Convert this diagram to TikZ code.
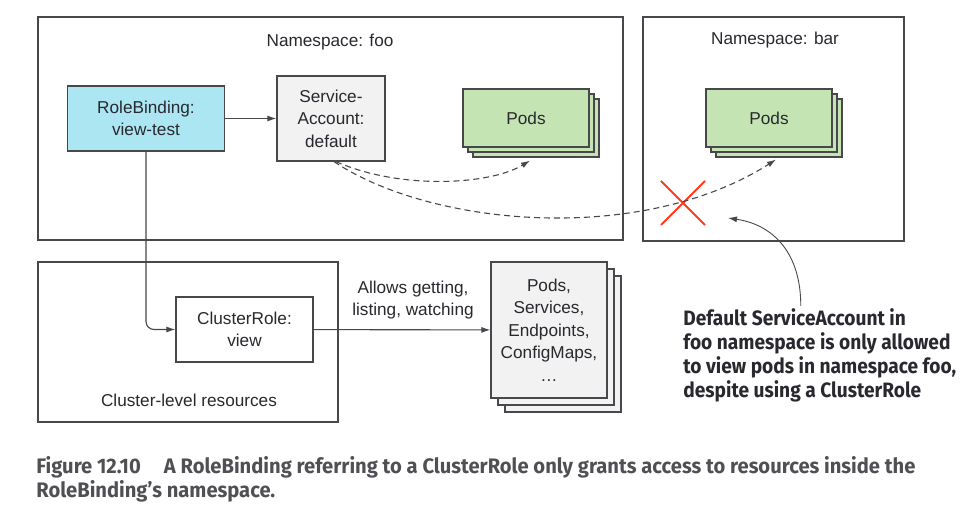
\documentclass[tikz,border=0pt]{standalone}
\usepackage{fontspec}
\setmainfont{Liberation Sans}
\newfontfamily\notefont[FakeStretch=0.92]{Fira Sans}
\newfontfamily\capfont[FakeStretch=0.96]{Fira Sans}
\usetikzlibrary{arrows.meta,shadows,shapes.misc}

\definecolor{rbblue}{RGB}{172,230,242}
\definecolor{podgreen}{RGB}{197,228,180}
\definecolor{sagray}{RGB}{242,242,242}
\definecolor{edge}{RGB}{72,72,76}
\definecolor{ink}{RGB}{40,40,46}
\definecolor{xred}{RGB}{255,59,31}
\definecolor{capgray}{RGB}{80,80,84}

\begin{document}
\begin{tikzpicture}[x=0.5pt, y=-0.5pt,
    font=\fontsize{8.6}{11.2}\selectfont, text=ink,
    region/.style={draw=edge, line width=0.6pt},
    box/.style={draw=edge, line width=0.6pt, align=center, inner sep=0pt},
    stack/.style={box, double copy shadow={shadow xshift=#1, shadow yshift=-#1}},
    arr/.style={draw=edge, line width=0.55pt, -{Latex[length=4.5pt, width=3pt]}},
    dasharr/.style={arr, dash pattern=on 3pt off 2pt}]
    \useasboundingbox (0,0) rectangle (970,512);

    % scopes
    \node[region, minimum width=292.5pt, minimum height=111.5pt] (foo) at (330.5,128.5) {};
    \node[region, minimum width=130.5pt, minimum height=112pt] (bar) at (773.5,129) {};
    \node[region, minimum width=150pt, minimum height=80pt] (cluster) at (188,342) {};
    \node (foolabel) at (330,42) {Namespace: foo};
    \node (barlabel) at (775,40) {Namespace: bar};
    \node (clusterlabel) at (189,400) {Cluster-level resources};

    % objects
    \node[box, fill=rbblue, minimum width=78.5pt, minimum height=32.5pt] (rb) at (146,118.5) {RoleBinding:\\view-test};
    \node[box, fill=sagray, minimum width=54pt, minimum height=42.5pt] (sa) at (331,118.5) {Service-\\Account:\\default};
    \node[stack=2.5pt, fill=podgreen, minimum width=63pt, minimum height=29pt] (foopods) at (526,118) {Pods};
    \node[stack=2.5pt, fill=podgreen, minimum width=63pt, minimum height=29pt] (barpods) at (769,118) {Pods};
    \node[box, fill=white, minimum width=68.5pt, minimum height=32.5pt] (cr) at (244.5,329.5) {ClusterRole:\\view};
    \node[stack=3.5pt, fill=sagray, minimum width=58pt, minimum height=68pt] (res) at (549,330) {Pods,\\Services,\\Endpoints,\\ConfigMaps,\\\dots};
    \node[align=center] (verbs) at (413,300) {Allows getting,\\listing, watching};
    \node[cross out, draw=xred, line width=1pt, minimum size=21pt, inner sep=0pt] (deny) at (683,203) {};

    \draw[arr] (rb) -- (sa);
    \draw[arr, rounded corners=4pt] (rb.south) |- (cr.west);
    \draw[arr] (cr) -- (res);
    \draw[dasharr] ([xshift=2.5pt]sa.south) .. controls (400,190) and (490,185) .. ([shift={(2pt,-6.5pt)}]foopods.south);
    \draw[dasharr] ([xshift=1.5pt]sa.south) .. controls (430,226) and (640,246) .. ([shift={(3.5pt,-6pt)}]barpods.south);

    % note
    \node[anchor=north west, align=left, inner sep=0pt, font=\notefont\bfseries\fontsize{10.4}{12}\selectfont] (note) at (683,308) {Default ServiceAccount in\\foo namespace is only allowed\\to view pods in namespace foo,\\despite using a ClusterRole};
    \coordinate (notetip) at (728,218);
    \draw[arr, line width=0.45pt] ([shift={(-9.5pt,1pt)}]note.north) .. controls (801,255) and (775,225) .. (notetip);

    % caption
    \node[anchor=north west, align=left, inner sep=0pt, text=capgray, font=\capfont\bfseries\fontsize{10.5}{12}\selectfont] (caption) at (36,456) {Figure 12.10\hspace{1.1em}A RoleBinding referring to a ClusterRole only grants access to resources inside the\\RoleBinding’s namespace.};
\end{tikzpicture}
\end{document}
